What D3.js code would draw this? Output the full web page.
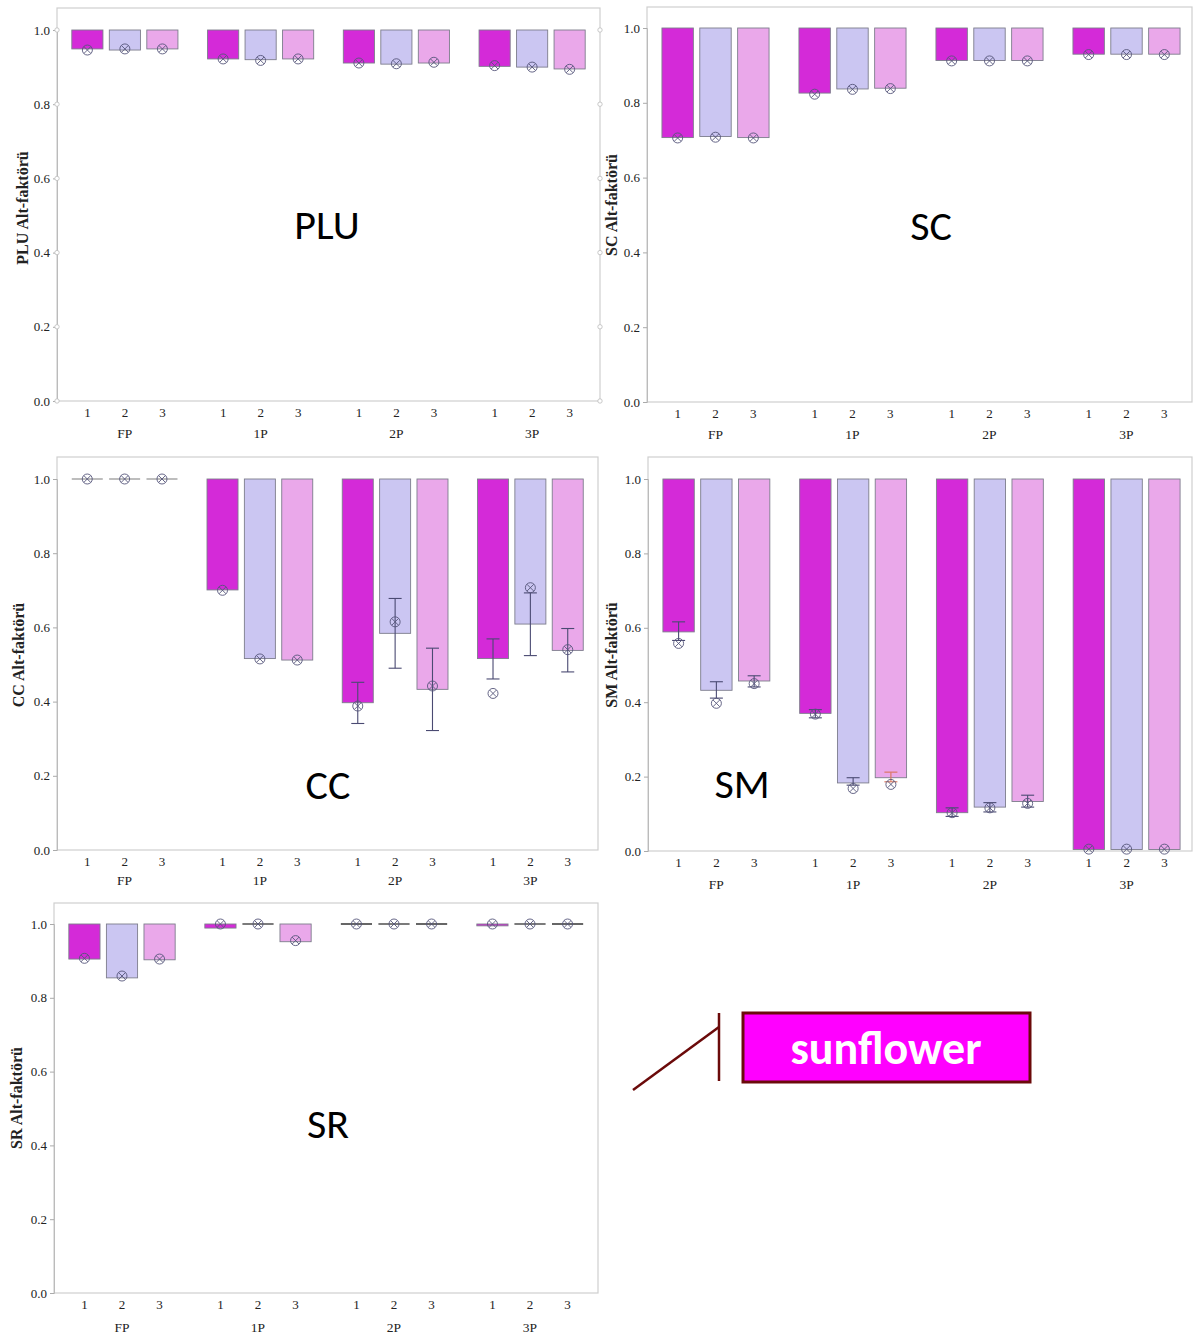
<!DOCTYPE html>
<html><head><meta charset="utf-8">
<script src="https://cdn.jsdelivr.net/npm/d3@7"></script>
<style>body{margin:0;background:#fff}svg{display:block}</style>
</head><body>
<script>
const groups = ["FP","1P","2P","3P"];
const levels = ["1","2","3"];
const yTicks = [0,0.2,0.4,0.6,0.8,1.0];
const seriesColors = ["#d42ad8","#cbc6f2","#eaa8ea"];

const pluBar  = [0.949,0.946,0.949, 0.922,0.920,0.922, 0.911,0.908,0.911, 0.902,0.900,0.895];
const pluMark = [0.946,0.949,0.949, 0.922,0.918,0.922, 0.911,0.909,0.913, 0.904,0.900,0.894];

const scBar  = [0.707,0.710,0.707, 0.826,0.837,0.839, 0.913,0.913,0.913, 0.930,0.930,0.930];
const scMark = [0.706,0.708,0.706, 0.823,0.836,0.838, 0.912,0.912,0.912, 0.929,0.929,0.929];

const ccBar  = [1,1,1, 0.701,0.516,0.512, 0.397,0.584,0.433, 0.516,0.609,0.538];
const ccMark = [1,1,1, 0.700,0.515,0.512, 0.388,0.615,0.442, 0.422,0.707,0.540];
const ccErrLo = [null,null,null, null,null,null, 0.341,0.490,0.322, 0.461,0.524,0.480];
const ccErrHi = [null,null,null, null,null,null, 0.452,0.678,0.544, 0.569,0.693,0.597];

const smBar  = [0.589,0.432,0.457, 0.370,0.183,0.197, 0.103,0.118,0.133, 0.004,0.004,0.004];
const smMark = [0.558,0.397,0.450, 0.368,0.168,0.179, 0.103,0.116,0.128, 0.005,0.005,0.005];
const smErrLo = [0.566,0.411,0.441, 0.358,0.177,0.186, 0.093,0.105,0.118, null,null,null];
const smErrHi = [0.616,0.455,0.471, 0.380,0.197,0.212, 0.116,0.130,0.150, null,null,null];

const srBar  = [0.905,0.854,0.903, 0.989,1,0.952, 1,1,1, 0.995,1,1];
const srMark = [0.907,0.859,0.905, 1.0,1.0,0.955, 1,1,1, 1.0,1.0,1.0];

const panels = [
  {name:"PLU", yLabel:"PLU Alt-faktörü", bar:pluBar, mark:pluMark, lo:null, hi:null,
   left:57, right:600, top:8, y1:30, y0:401, labX:24, labY:208, big:[327,239], circles:true, tickDy:16, grpDy:37, zeroColor:"#888"},
  {name:"SC", yLabel:"SC Alt-faktörü", bar:scBar, mark:scMark, lo:null, hi:null,
   left:647, right:1195, top:7, y1:28, y0:402, labX:613, labY:205, big:[931,240], circles:false, tickDy:16, grpDy:37, zeroColor:"#888"},
  {name:"CC", yLabel:"CC Alt-faktörü", bar:ccBar, mark:ccMark, lo:ccErrLo, hi:ccErrHi,
   left:57, right:598, top:457, y1:479, y0:850, labX:20, labY:655, big:[328,799], circles:false, tickDy:16, grpDy:35, zeroColor:"#999"},
  {name:"SM", yLabel:"SM Alt-faktörü", bar:smBar, mark:smMark, lo:smErrLo, hi:smErrHi,
   left:648, right:1195, top:457, y1:479, y0:851, labX:613, labY:655, big:[742,798], circles:false, tickDy:16, grpDy:38, zeroColor:"#888"},
  {name:"SR", yLabel:"SR Alt-faktörü", bar:srBar, mark:srMark, lo:null, hi:null,
   left:54, right:598, top:903, y1:924, y0:1293, labX:18, labY:1098, big:[328,1138], circles:false, tickDy:16, grpDy:39, zeroColor:"#333"}
];

const W = 1193, H = 1336;
const svg = d3.select("body").append("svg").attr("width", W).attr("height", H);
const serif = "'Liberation Serif','Times New Roman',serif";

panels.forEach(p => {
  const g = svg.append("g");
  const y = d3.scaleLinear().domain([0,1]).range([p.y0, p.y1]);
  const x0 = d3.scaleBand().domain(groups).range([p.left, p.right]).padding(0);
  const gw = x0.bandwidth();
  const x1 = d3.scaleBand().domain(levels).range([0, gw]).paddingInner(0.17).paddingOuter(0.395);
  const bw = x1.bandwidth();

  // frame
  g.append("rect").attr("x", p.left).attr("y", p.top)
    .attr("width", Math.min(p.right, 1192) - p.left).attr("height", p.y0 - p.top)
    .attr("fill","none").attr("stroke","#cfcfcf").attr("stroke-width",1.2);

  // y axis
  const ax = g.append("g").attr("transform", `translate(${p.left},0)`)
    .call(d3.axisLeft(y).tickValues(yTicks).tickFormat(d3.format(".1f")).tickSize(4).tickPadding(3));
  ax.select(".domain").attr("stroke","#bbb");
  ax.selectAll(".tick line").attr("stroke","#aaa");
  ax.selectAll("text").attr("font-family", serif).attr("font-size", 13).attr("fill","#222");
  if (p.circles) {
    yTicks.forEach(t => {
      [p.left, p.right].forEach(cx => g.append("circle").attr("cx", cx).attr("cy", y(t)).attr("r", 2.2)
        .attr("fill","#fff").attr("stroke","#bbb").attr("stroke-width",0.8));
    });
  }

  // y label
  g.append("text").attr("transform", `translate(${p.labX},${p.labY}) rotate(-90)`)
    .attr("text-anchor","middle").attr("dominant-baseline","middle")
    .attr("font-family", serif).attr("font-weight","bold").attr("font-size", 16).attr("fill","#222")
    .text(p.yLabel);

  // x labels
  groups.forEach(gr => {
    levels.forEach(lv => {
      g.append("text").attr("x", x0(gr) + x1(lv) + bw/2).attr("y", p.y0 + p.tickDy)
        .attr("text-anchor","middle").attr("font-family", serif).attr("font-size", 13).attr("fill","#222").text(lv);
    });
    g.append("text").attr("x", x0(gr) + gw/2).attr("y", p.y0 + p.grpDy)
      .attr("text-anchor","middle").attr("font-family", serif).attr("font-size", 13.5).attr("fill","#222").text(gr);
  });

  // bars
  const items = [];
  groups.forEach((gr, gi) => levels.forEach((lv, li) => {
    const i = gi*3 + li;
    items.push({gr, lv, li, i, cx: x0(gr) + x1(lv) + bw/2, v: p.bar[i], m: p.mark[i],
      lo: p.lo ? p.lo[i] : null, hi: p.hi ? p.hi[i] : null});
  }));

  items.forEach(d => {
    if (y(d.v) - y(1) > 0.8) {
      g.append("rect").attr("x", d.cx - bw/2).attr("y", y(1)).attr("width", bw).attr("height", y(d.v) - y(1))
        .attr("fill", seriesColors[d.li]).attr("stroke","#7d7d8c").attr("stroke-width",0.9);
    } else {
      g.append("line").attr("x1", d.cx - bw/2).attr("x2", d.cx + bw/2).attr("y1", y(1)).attr("y2", y(1))
        .attr("stroke", p.zeroColor).attr("stroke-width", 1.3);
    }
  });

  // error bars
  items.forEach(d => {
    if (d.lo == null) return;
    const col = (p.name === "SM" && d.i === 5) ? "#d9735a" : "#4a4a72";
    const eg = g.append("g").attr("stroke", col).attr("stroke-width", 1.1);
    eg.append("line").attr("x1", d.cx).attr("x2", d.cx).attr("y1", y(d.hi)).attr("y2", y(d.lo));
    [d.lo, d.hi].forEach(v => eg.append("line").attr("x1", d.cx - 6.5).attr("x2", d.cx + 6.5).attr("y1", y(v)).attr("y2", y(v)));
  });

  // markers
  items.forEach(d => {
    const mg = g.append("g").attr("transform", `translate(${d.cx},${y(d.m)})`)
      .attr("stroke","#56567a").attr("stroke-width",0.9).attr("fill","none");
    mg.append("circle").attr("r", 5);
    mg.append("line").attr("x1",-3.4).attr("y1",-3.4).attr("x2",3.4).attr("y2",3.4);
    mg.append("line").attr("x1",-3.4).attr("y1",3.4).attr("x2",3.4).attr("y2",-3.4);
  });

  // big panel label
  g.append("text").attr("x", p.big[0]).attr("y", p.big[1]).attr("text-anchor","middle")
    .attr("font-family","Carlito, Lato, 'Open Sans', sans-serif").attr("font-size", 42).attr("fill","#000")
    .text(p.name);
});

// sunflower annotation
const ann = svg.append("g");
ann.append("line").attr("x1",719).attr("x2",719).attr("y1",1013).attr("y2",1081)
  .attr("stroke","#6b0a0a").attr("stroke-width",2.5);
ann.append("line").attr("x1",633).attr("y1",1090).attr("x2",719).attr("y2",1027)
  .attr("stroke","#6b0a0a").attr("stroke-width",2.5);
ann.append("rect").attr("x",743).attr("y",1013).attr("width",287).attr("height",69)
  .attr("fill","#ff00ff").attr("stroke","#6b0a0a").attr("stroke-width",3);
ann.append("text").attr("x",886).attr("y",1064).attr("text-anchor","middle")
  .attr("font-family","Carlito, Lato, 'Open Sans', sans-serif").attr("font-weight","bold")
  .attr("font-size",46).attr("fill","#fff").text("sunflower");
</script>
</body></html>
